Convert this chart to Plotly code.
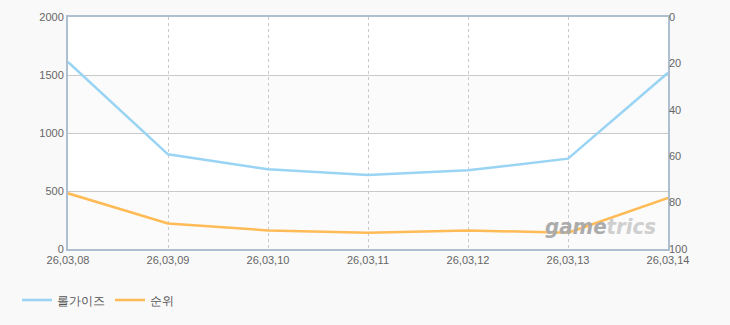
import plotly.graph_objects as go

dates = ["26,03,08", "26,03,09", "26,03,10", "26,03,11", "26,03,12", "26,03,13", "26,03,14"]
players = [1612, 816, 687, 638, 678, 779, 1519]
rank = [76, 89, 92, 93, 92, 93, 78]

series1_name = "롤가이즈"
series2_name = "순위"

font_family = "Liberation Sans, Arial, sans-serif"
frame_color = "#aebfd2"
grid_color = "#c9c9c9"

fig = go.Figure()
fig.add_trace(go.Scatter(
    x=dates, y=players, name=series1_name, mode="lines",
    line=dict(color="#99d4f4", width=2.5), yaxis="y"))
fig.add_trace(go.Scatter(
    x=dates, y=rank, name=series2_name, mode="lines",
    line=dict(color="#ffbb55", width=2.5), yaxis="y2"))

# alternating bands
for lo, hi in [(0, 500), (1000, 1500)]:
    fig.add_shape(type="rect", xref="paper", yref="y", x0=0, x1=1, y0=lo, y1=hi,
                  fillcolor="#fbfbfb", line=dict(width=0), layer="below")

fig.add_annotation(
    xref="paper", yref="paper", x=0.983, y=0.035, xanchor="right", yanchor="bottom",
    text="<b><i><span style='color:#ababab'>game</span><span style='color:#cfcfcf'>trics</span></i></b>",
    showarrow=False, font=dict(family="DejaVu Sans Condensed, DejaVu Sans, sans-serif", size=22))

fig.update_layout(
    width=730, height=325,
    margin=dict(l=68, r=62, t=17, b=76),
    paper_bgcolor="#f9f9f9", plot_bgcolor="#ffffff",
    font=dict(family=font_family, size=11, color="#666666"),
    showlegend=True,
    legend=dict(orientation="h", x=-0.085, xanchor="left", y=0.077, yref="container",
                yanchor="middle", font=dict(size=12, color="#555555"),
                itemwidth=30, bgcolor="rgba(0,0,0,0)"),
    xaxis=dict(type="category", range=[0, 6], showgrid=True, gridcolor=grid_color,
               griddash="3px,3px", gridwidth=1, showline=True, linecolor=frame_color,
               linewidth=2, mirror=True, ticks="", tickfont=dict(size=11, color="#666666"),
               zeroline=False),
    yaxis=dict(range=[0, 2000], dtick=500, showgrid=True, gridcolor=grid_color,
               gridwidth=1, showline=True, linecolor=frame_color, linewidth=2,
               mirror=True, ticks="", zeroline=False,
               tickfont=dict(size=11, color="#666666")),
    yaxis2=dict(range=[100, 0], dtick=20, overlaying="y", side="right",
                showgrid=False, showline=False, ticks="", zeroline=False,
                tickfont=dict(size=11, color="#666666")),
)

fig.write_html("out.html")
